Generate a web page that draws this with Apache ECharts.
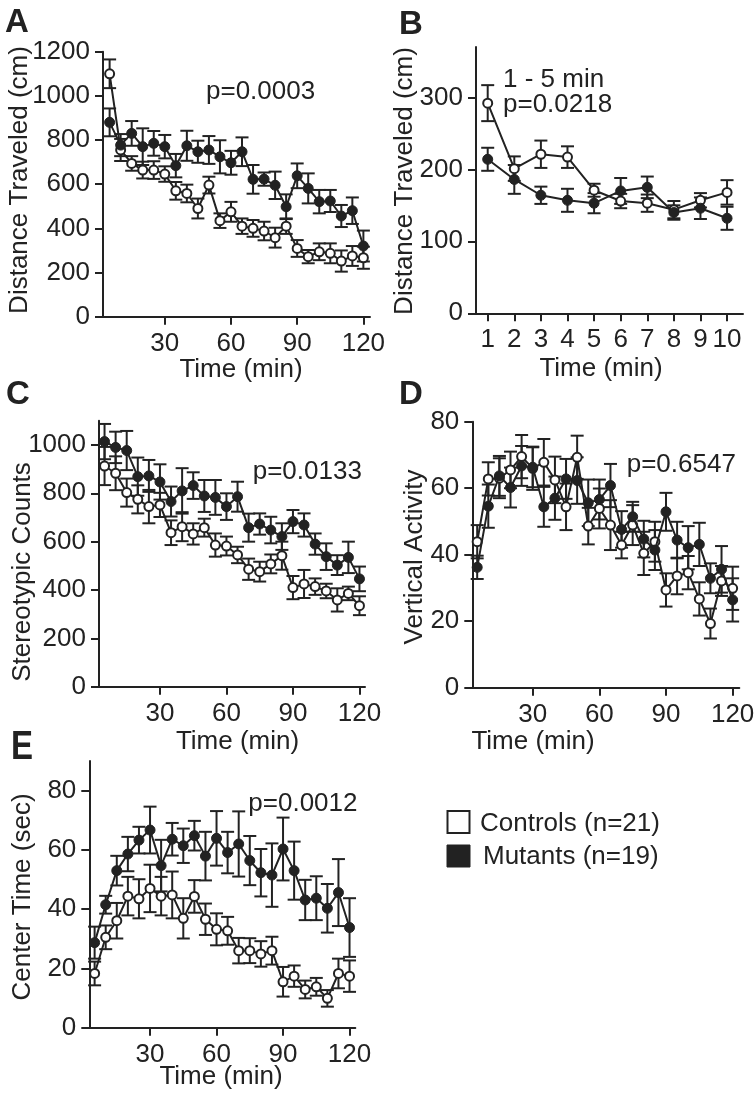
<!DOCTYPE html>
<html>
<head>
<meta charset="utf-8">
<script src="https://cdn.jsdelivr.net/npm/echarts@6/dist/echarts.min.js"></script>
<style>
html,body{margin:0;padding:0;background:#fff;}
#chart{width:754px;height:1098px;}
</style>
</head>
<body>
<div id="chart"></div>
<script>
// ---------- DATA ----------
const times = [5,10,15,20,25,30,35,40,45,50,55,60,65,70,75,80,85,90,95,100,105,110,115,120];
const minutesB = [1,2,3,4,5,6,7,8,9,10];

// Panel A: Distance Traveled (cm), 5-min bins
const distCtrl    = [1100,755,694,664,664,646,570,558,490,596,435,475,410,400,388,358,410,309,272,294,287,252,275,267];
const distCtrlErr = [65,50,33,38,40,35,40,40,45,38,33,45,35,38,42,45,35,38,30,38,45,48,45,50];
const distMut     = [880,777,830,770,785,770,684,774,747,755,724,697,747,622,623,595,498,638,581,521,524,456,480,320];
const distMutErr  = [63,50,56,83,56,53,53,68,50,63,75,54,65,65,30,62,56,56,68,53,50,50,60,70];

// Panel B: Distance Traveled (cm), first 10 min
const firstCtrl    = [292,201,221,217,171,156,153,144,157,168];
const firstCtrlErr = [25,17,19,15,9,10,12,12,10,17];
const firstMut     = [214,186,164,157,153,170,175,140,146,132];
const firstMutErr  = [16,20,12,16,14,18,15,10,15,16];

// Panel C: Stereotypic Counts
const stereoCtrl    = [913,883,803,775,745,752,637,662,632,658,586,582,545,486,476,508,542,410,425,414,396,359,386,335];
const stereoCtrlErr = [79,70,58,58,69,50,51,60,44,37,48,39,34,44,41,39,58,48,58,34,30,48,28,39];
const stereoMut     = [1014,990,977,869,872,847,766,810,832,789,783,745,786,658,673,648,621,683,669,590,538,503,535,446];
const stereoMutErr  = [73,65,81,79,66,73,62,94,55,66,72,55,62,58,44,55,55,48,48,44,55,41,65,51];

// Panel D: Vertical Activity
const vertCtrl    = [43.9,62.8,63,65.5,69.5,66,67.8,62.5,54.4,69.3,48.6,53.9,48.9,42.9,48.9,40.4,43.9,29.4,33.6,34.6,26.7,19.3,32.1,29.9];
const vertCtrlErr = [5,5,6,5.5,6.5,6.5,7,7,7,6.5,5.5,6,7.5,4,6,6.5,6,5,5.5,5,5,4.5,4.5,6.5];
const vertMut     = [36.2,54.6,63.7,60.2,66.7,66.3,54.4,57,62.8,62.3,55.6,56.6,60.8,47.6,51.4,44.7,41.4,52.9,44.4,42.1,43.1,32.9,35.6,26.4];
const vertMutErr  = [3.5,6.5,6,6,6,6,6,6.5,6,7,7,6,6.5,5.5,4.5,5.5,6,5.7,5.5,6.5,6.5,4.5,7,6.5];

// Panel E: Center Time (sec)
const centerCtrl    = [18.3,30.5,36.1,44.4,43.5,47,44.4,44.8,36.9,44.3,36.6,33.2,32.7,26,26,24.9,26,15.5,17.4,12.9,13.8,9.9,18.3,17.4];
const centerCtrlErr = [4,4,6,6.5,6.6,8,6.5,7.9,6.8,5.5,5.3,5.4,4.7,4.3,4.2,4.3,4.7,5,3.6,3,3,2.8,5,5.3];
const centerMut     = [28.7,41.5,53,58.6,63.3,66.7,54.7,63.6,61.4,64.8,57.9,63.9,59.1,62,56.4,52.3,51.5,60.3,53,43.1,43.7,40.3,45.6,33.8];
const centerMutErr  = [5.4,3,5,5.8,4.5,7.9,8.7,5.5,5.8,5,8.2,9.2,7,11,8.3,8,10.7,10.6,9.8,6.8,7.4,8.2,11.3,9.9];

// Tick labels
const timeTicks   = [30,60,90,120];
const bTimeTicks  = [1,2,3,4,5,6,7,8,9,10];
const distTicksA  = [0,200,400,600,800,1000,1200];
const distTicksB  = [0,100,200,300];
const stereoTicks = [0,200,400,600,800,1000];
const vertTicks   = [0,20,40,60,80];
const centerTicks = [0,20,40,60,80];

// Texts
const panelLetters = ['A','B','C','D','E'];
const yTitles = ['Distance Traveled (cm)','Distance Traveled (cm)','Stereotypic Counts','Vertical Activity','Center Time (sec)'];
const xTitle = 'Time (min)';
const pTexts = ['p=0.0003','p=0.0218','p=0.0133','p=0.6547','p=0.0012'];
const bNote = '1 - 5 min';
const legendNames = ['Controls (n=21)','Mutants (n=19)'];

// ---------- STYLE / LAYOUT ----------
const INK = '#222222';
const FONT = '"Liberation Sans", Arial, Helvetica, sans-serif';
const FS = 26;

const panels = [
  {grid:{left:103,top:51.7,width:267,height:265}, xMin:2, xMax:123, xTicks:timeTicks, yMax:1200, yTicks:distTicksA, x:times, ctrl:distCtrl, ctrlE:distCtrlErr, mut:distMut, mutE:distMutErr},
  {grid:{left:476,top:47,width:267,height:266.3}, xMin:0.56, xMax:10.6, xTicks:bTimeTicks, yMax:370, yTicks:distTicksB, x:minutesB, ctrl:firstCtrl, ctrlE:firstCtrlErr, mut:firstMut, mutE:firstMutErr},
  {grid:{left:99,top:420.8,width:266,height:265.9}, xMin:2.5, xMax:122.5, xTicks:timeTicks, yMax:1100, yTicks:stereoTicks, x:times, ctrl:stereoCtrl, ctrlE:stereoCtrlErr, mut:stereoMut, mutE:stereoMutErr},
  {grid:{left:472.3,top:421.7,width:267,height:266}, xMin:2.8, xMax:123, xTicks:timeTicks, yMax:80, yTicks:vertTicks, x:times, ctrl:vertCtrl, ctrlE:vertCtrlErr, mut:vertMut, mutE:vertMutErr},
  {grid:{left:89.3,top:761,width:266,height:266.7}, xMin:2.6, xMax:122.6, xTicks:timeTicks, yMax:90, yTicks:centerTicks, x:times, ctrl:centerCtrl, ctrlE:centerCtrlErr, mut:centerMut, mutE:centerMutErr}
];

function errRender(params, api){
  const x = api.value(0), lo = api.value(1), hi = api.value(2);
  const pLo = api.coord([x, lo]), pHi = api.coord([x, hi]);
  const w = 6.5;
  const style = {stroke: INK, lineWidth: 2, fill: null};
  return {type:'group', children:[
    {type:'line', shape:{x1:pHi[0],y1:pHi[1],x2:pLo[0],y2:pLo[1]}, style:style},
    {type:'line', shape:{x1:pHi[0]-w,y1:pHi[1],x2:pHi[0]+w,y2:pHi[1]}, style:style},
    {type:'line', shape:{x1:pLo[0]-w,y1:pLo[1],x2:pLo[0]+w,y2:pLo[1]}, style:style}
  ]};
}

const plain = v => String(v);
const grids=[], xAxes=[], yAxes=[], series=[];
panels.forEach((p,i)=>{
  grids.push(Object.assign({containLabel:false, outerBoundsMode:'none'}, p.grid));
  const lbl = {fontSize:FS, color:INK, fontFamily:FONT, formatter:plain};
  xAxes.push({type:'value', gridIndex:i, min:p.xMin, max:p.xMax,
    axisLine:{show:true, onZero:false, lineStyle:{color:INK, width:2}},
    axisTick:{show:true, length:8, lineStyle:{color:INK, width:2}, customValues:p.xTicks},
    axisLabel:Object.assign({margin:14, customValues:p.xTicks, showMinLabel:true, showMaxLabel:true}, lbl),
    splitLine:{show:false}});
  yAxes.push({type:'value', gridIndex:i, min:0, max:p.yMax,
    axisLine:{show:true, onZero:false, lineStyle:{color:INK, width:2}},
    axisTick:{show:true, length:8, lineStyle:{color:INK, width:2}, customValues:p.yTicks},
    axisLabel:Object.assign({margin:13, customValues:p.yTicks, showMinLabel:true, showMaxLabel:true}, lbl),
    splitLine:{show:false}});
  const mk = (vals)=>vals.map((v,k)=>[p.x[k], v]);
  const mkE = (vals,errs)=>vals.map((v,k)=>[p.x[k], v-errs[k], v+errs[k]]);
  series.push({type:'custom', xAxisIndex:i, yAxisIndex:i, renderItem:errRender, data:mkE(p.mut,p.mutE), encode:{x:0,y:[1,2]}, z:1, silent:true});
  series.push({type:'custom', xAxisIndex:i, yAxisIndex:i, renderItem:errRender, data:mkE(p.ctrl,p.ctrlE), encode:{x:0,y:[1,2]}, z:1, silent:true});
  series.push({type:'line', name:legendNames[0], xAxisIndex:i, yAxisIndex:i, data:mk(p.ctrl), z:3,
    symbol:'circle', symbolSize:9, showAllSymbol:true,
    lineStyle:{color:INK, width:2}, itemStyle:{color:'#ffffff', borderColor:INK, borderWidth:2}});
  series.push({type:'line', name:legendNames[1], xAxisIndex:i, yAxisIndex:i, data:mk(p.mut), z:4,
    symbol:'circle', symbolSize:10, showAllSymbol:true,
    lineStyle:{color:INK, width:2}, itemStyle:{color:INK, borderColor:INK, borderWidth:1}});
});

const txt = (text,x,y,opt)=>Object.assign({type:'text', x:x, y:y, silent:true,
  style:Object.assign({text:text, fill:INK, font:FS+'px '+FONT, textAlign:'left', textVerticalAlign:'middle'}, opt&&opt.style||{})},
  opt&&opt.el||{});

const letterFont = 'bold 33px '+FONT;
const graphics = [
  txt(panelLetters[0], 5, 23, {style:{font:letterFont}}),
  txt(panelLetters[1], 399, 24.5, {style:{font:letterFont}}),
  txt(panelLetters[2], 6, 395, {style:{font:letterFont}}),
  txt(panelLetters[3], 399, 395, {style:{font:letterFont}}),
  txt(panelLetters[4], 11, 748, {style:{font:letterFont}, el:{scaleY:1.25, originX:0, originY:0}}),
  // y titles
  txt(yTitles[0], 20, 180, {style:{textAlign:'center'}, el:{rotation:Math.PI/2}}),
  txt(yTitles[1], 405, 181, {style:{textAlign:'center'}, el:{rotation:Math.PI/2}}),
  txt(yTitles[2], 23, 572, {style:{textAlign:'center'}, el:{rotation:Math.PI/2}}),
  txt(yTitles[3], 415, 557, {style:{textAlign:'center'}, el:{rotation:Math.PI/2}}),
  txt(yTitles[4], 23, 897, {style:{textAlign:'center'}, el:{rotation:Math.PI/2}}),
  // x titles
  txt(xTitle, 241, 370, {style:{textAlign:'center'}}),
  txt(xTitle, 601, 369, {style:{textAlign:'center'}}),
  txt(xTitle, 237.5, 742, {style:{textAlign:'center'}}),
  txt(xTitle, 533, 742, {style:{textAlign:'center'}}),
  txt(xTitle, 221, 1077, {style:{textAlign:'center'}}),
  // p-values
  txt(pTexts[0], 206, 91.8),
  txt(bNote, 503, 79.5),
  txt(pTexts[1], 503, 105.3),
  txt(pTexts[2], 252.7, 472),
  txt(pTexts[3], 626.7, 465.3),
  txt(pTexts[4], 248.3, 804),
  // legend
  {type:'rect', shape:{x:447.5, y:811, width:22, height:22}, style:{fill:'#fff', stroke:INK, lineWidth:2}, silent:true},
  {type:'rect', shape:{x:447, y:845, width:23, height:22}, style:{fill:INK, stroke:INK, lineWidth:1}, silent:true},
  txt(legendNames[0], 480, 823.5),
  txt(legendNames[1], 483, 856.5)
];

const chart = echarts.init(document.getElementById('chart'), null, {renderer:'canvas', width:754, height:1098});
chart.setOption({
  animation:false,
  backgroundColor:'#ffffff',
  textStyle:{fontFamily:FONT},
  grid:grids, xAxis:xAxes, yAxis:yAxes, series:series, graphic:graphics
});
</script>
</body>
</html>
